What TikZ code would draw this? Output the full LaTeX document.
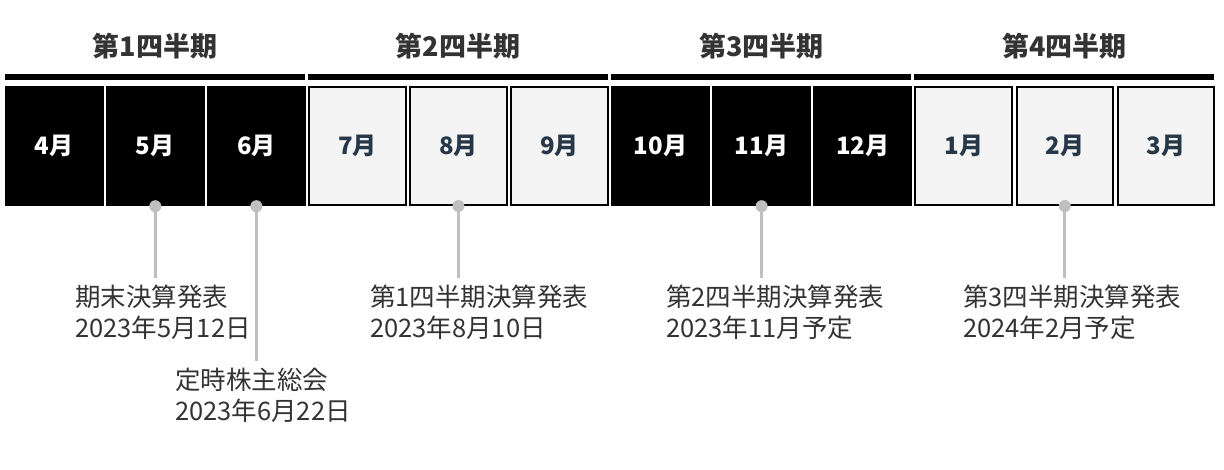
\documentclass[tikz,border=0pt]{standalone}
\usepackage{fontspec}
\setmainfont{Noto Sans CJK JP}
\usetikzlibrary{positioning}
\definecolor{TextClr}{RGB}{51,51,51}
\definecolor{SlateClr}{RGB}{38,55,72}
\definecolor{LightClr}{RGB}{244,244,244}
\definecolor{PinClr}{RGB}{191,191,191}

\begin{document}
\begin{tikzpicture}[x=1pt,y=-1pt,
  darkbox/.style={fill=black,text=white,minimum width=98.5pt,minimum height=120pt,inner sep=0pt,
    font=\fontsize{24}{24}\selectfont\bfseries},
  lightbox/.style={fill=LightClr,draw=black,line width=2pt,text=SlateClr,minimum width=96.5pt,
    minimum height=118pt,inner sep=0pt,font=\fontsize{24}{24}\selectfont\bfseries},
  qbar/.style={fill=black,minimum width=300pt,minimum height=6pt,inner sep=0pt},
  qtitle/.style={text=TextClr,inner sep=0pt,font=\fontsize{27}{27}\selectfont\bfseries},
  note/.style={text=TextClr,inner sep=0pt,anchor=north west,align=left,
    font=\fontsize{25.5}{31}\selectfont},
  pin/.style={draw=PinClr,line width=3pt}]
\useasboundingbox (0,0) rectangle (1224,469);

% quarters
\foreach \q in {1,...,4}{
  \node[qbar] (b\q) at ({155+303.15*(\q-1)},77) {};
  \node[qtitle,above=14pt of b\q] (t\q) {第\q 四半期};
}

% months
\foreach \m [count=\i from 0] in {4,5,6,7,8,9,10,11,12,1,2,3}{
  \pgfmathtruncatemacro\q{\i/3}
  \ifodd\q
    \node[lightbox] (m\m) at ({54.25+101.05*\i},146) {\m 月};
  \else
    \node[darkbox] (m\m) at ({54.25+101.05*\i},146) {\m 月};
  \fi
}

% notes
\node[note] (n1) at (75,285) {期末決算発表\\2023年5月12日};
\node[note] (n2) at (175,368) {定時株主総会\\2023年6月22日};
\node[note] (n3) at (370,285) {第1四半期決算発表\\2023年8月10日};
\node[note] (n4) at (666,285) {第2四半期決算発表\\2023年11月予定};
\node[note] (n5) at (963,285) {第3四半期決算発表\\2024年2月予定};

\foreach \m/\n in {5/n1,6/n2,8/n3,11/n4,2/n5}{
  \draw[pin] (m\m.south) -- ([yshift=7pt]\n.north -| m\m.south);
  \fill[PinClr] (m\m.south) circle (6pt);
}
\end{tikzpicture}
\end{document}
